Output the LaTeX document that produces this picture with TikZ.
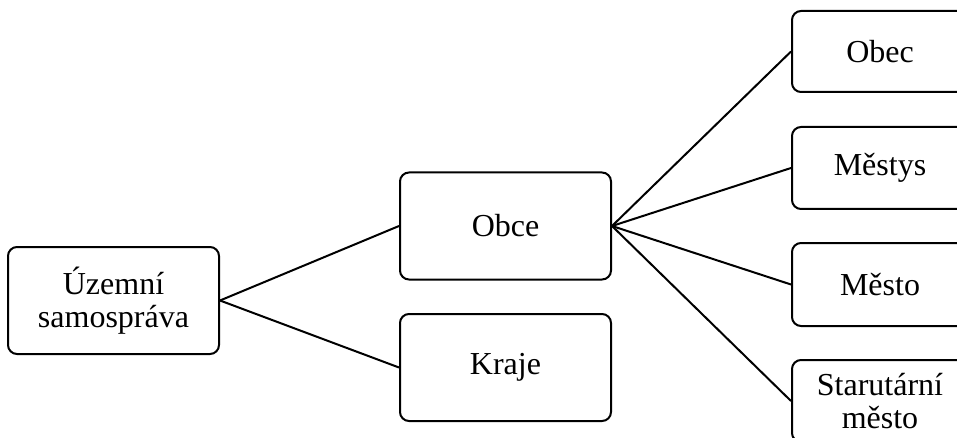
\documentclass[tikz,border=0pt]{standalone}
\usepackage{fontspec}
\setmainfont{Liberation Serif}
\begin{document}
\begin{tikzpicture}[x=1pt,y=-1pt,
  box/.style={draw=black, line width=2pt, rounded corners=9pt, fill=white,
    inner sep=0pt, align=center, font=\fontsize{32}{33}\selectfont},
  bigbox/.style={box, minimum width=211pt, minimum height=107pt},
  smallbox/.style={box, minimum width=176pt, minimum height=82pt},
  link/.style={draw=black, line width=2pt}]
\useasboundingbox (0,0) rectangle (957,438);
\clip (0,0) rectangle (957,438);
\node[bigbox] (U) at (113.5,300.5) {Územní\\samospráva};
\node[bigbox] (O) at (505.5,226) {Obce};
\node[bigbox] (K) at (505.5,367.5) {Kraje};
\node[smallbox, minimum height=81pt] (R1) at (880,51.5) {Obec};
\node[smallbox] (R2) at (880,168) {Městys};
\node[smallbox, minimum height=83pt] (R3) at (880,284.5) {Město};
\node[smallbox] (R4) at (880,401) {Starutární\\město};
\draw[link] (U.east) -- (O.west);
\draw[link] (U.east) -- (K.west);
\draw[link] (O.east) -- (R1.west);
\draw[link] (O.east) -- (R2.west);
\draw[link] (O.east) -- (R3.west);
\draw[link] (O.east) -- (R4.west);
\end{tikzpicture}
\end{document}
